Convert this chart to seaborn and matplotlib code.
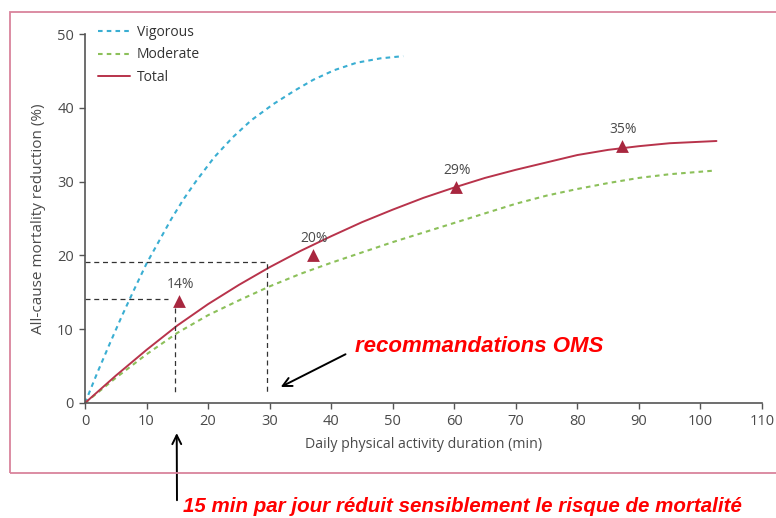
import matplotlib
matplotlib.use("Agg")
import matplotlib.pyplot as plt
import seaborn as sns
from matplotlib.patches import Rectangle

# courbes (min, % de réduction)
vig_x = [0, 2, 4, 6, 8, 10, 12, 14, 16, 18, 21, 24, 27, 30.6, 34, 37.1, 40.5, 44.1, 48, 51.7]
vig_y = [0, 4.1, 8.0, 11.8, 15.4, 18.9, 21.9, 24.9, 27.6, 30.0, 33.3, 36.0, 38.3, 40.5, 42.3, 43.8, 45.1, 46.1, 46.7, 47.0]

mod_x = [0, 5, 10, 15, 20, 25, 30, 35, 40, 45, 50, 55, 60, 65, 70, 75, 80, 85, 90, 95, 102.4]
mod_y = [0, 3.4, 6.6, 9.5, 11.9, 13.9, 15.8, 17.5, 19.0, 20.4, 21.8, 23.1, 24.4, 25.7, 27.0, 28.1, 29.0, 29.8, 30.5, 31.0, 31.5]

tot_x = [0, 5, 10, 15, 20, 25, 30, 35, 40, 45, 50, 55, 60, 65, 70, 75, 80, 85, 90, 95, 102.6]
tot_y = [0, 3.7, 7.2, 10.5, 13.4, 16.0, 18.4, 20.6, 22.6, 24.5, 26.2, 27.8, 29.2, 30.5, 31.6, 32.6, 33.6, 34.3, 34.8, 35.2, 35.5]

# triangles + étiquettes
tri_x = [15.3, 37.0, 60.3, 87.2]
tri_y = [13.8, 20.0, 29.3, 34.8]
tri_lab = ["14%", "20%", "29%", "35%"]

# lignes pointillées de repère
ref1_x = [0, 29.5, 29.5]
ref1_y = [19.1, 19.1, 1.1]
ref2_x = [0, 13.5]
ref2_y = [14.1, 14.1]
ref3_x = [14.6, 14.6]
ref3_y = [12.9, 1.1]

sns.set_theme(style="ticks")
plt.rcParams["font.family"] = ["Open Sans", "DejaVu Sans"]

W, H = 776, 518
fig = plt.figure(figsize=(W / 100, H / 100), dpi=100)
ax = fig.add_axes([85 / W, 1 - 403 / H, (762 - 85) / W, (403 - 34) / H])

grey = "#4a4a4a"
sns.lineplot(x=vig_x, y=vig_y, ax=ax, color="#3aaed2", lw=1.5, linestyle=(0, (2.2, 2)), label="Vigorous")
sns.lineplot(x=mod_x, y=mod_y, ax=ax, color="#8cc05a", lw=1.5, linestyle=(0, (2.2, 2)), label="Moderate")
sns.lineplot(x=tot_x, y=tot_y, ax=ax, color="#b8334b", lw=1.4, label="Total")

for rx, ry in [(ref1_x, ref1_y), (ref2_x, ref2_y), (ref3_x, ref3_y)]:
    ax.plot(rx, ry, color="#333333", lw=0.9, linestyle=(0, (4, 3)))

sns.scatterplot(x=tri_x, y=tri_y, ax=ax, marker="^", s=85, color="#a8273f", linewidth=0, zorder=5)
for x, y, t in zip(tri_x, tri_y, tri_lab):
    ax.annotate(t, (x, y), xytext=(1, 12), textcoords="offset points", ha="center", va="center",
                fontsize=10, color=grey)

ax.set_xlim(0, 110)
ax.set_ylim(0, 50)
ax.set_xticks(range(0, 111, 10))
ax.set_yticks(range(0, 51, 10))
sns.despine(ax=ax)
for s in ["left", "bottom"]:
    ax.spines[s].set_color("#555555")
    ax.spines[s].set_linewidth(1.2)
ax.tick_params(direction="out", length=4, width=1, colors="#555555", labelcolor=grey, labelsize=10.5, pad=4)
ax.set_xlabel("Daily physical activity duration (min)", fontsize=10.2, color=grey, labelpad=6)
ax.set_ylabel("All-cause mortality reduction (%)", fontsize=11, color=grey, labelpad=8)

leg = ax.legend(loc="upper left", bbox_to_anchor=(0.019, 1.025), frameon=False, fontsize=10,
                handlelength=2.3, handletextpad=0.5, labelspacing=0.55, borderpad=0, borderaxespad=0)
for t in leg.get_texts():
    t.set_color("#333333")

# cadre rose
fig.patches.append(Rectangle((10 / W, 1 - 473 / H), 1.0, (473 - 12) / H, transform=fig.transFigure,
                             fill=False, edgecolor="#d9839c", lw=1.3))

# annotations
red_font = dict(color="#ff0000", fontweight="bold", fontstyle="italic",
                family=["Liberation Sans", "DejaVu Sans"])
fig.text(355 / W, 1 - 347 / H, "recommandations OMS", va="center", ha="left", fontsize=16, **red_font)
ax.annotate("", xy=(31.4, 2.0), xytext=(348 / W, 1 - 353 / H), textcoords="figure fraction",
            arrowprops=dict(arrowstyle="->", color="black", lw=1.4, mutation_scale=16))

fig.text(183 / W, 1 - 507 / H, "15 min par jour réduit sensiblement le risque de mortalité",
         va="center", ha="left", fontsize=14.8, **red_font)
ax.annotate("", xy=(14.9, -3.7), xytext=(177 / W, 1 - 503 / H), textcoords="figure fraction",
            arrowprops=dict(arrowstyle="->", color="black", lw=1.4, mutation_scale=16),
            annotation_clip=False)

fig.savefig("out.png", dpi=100)
